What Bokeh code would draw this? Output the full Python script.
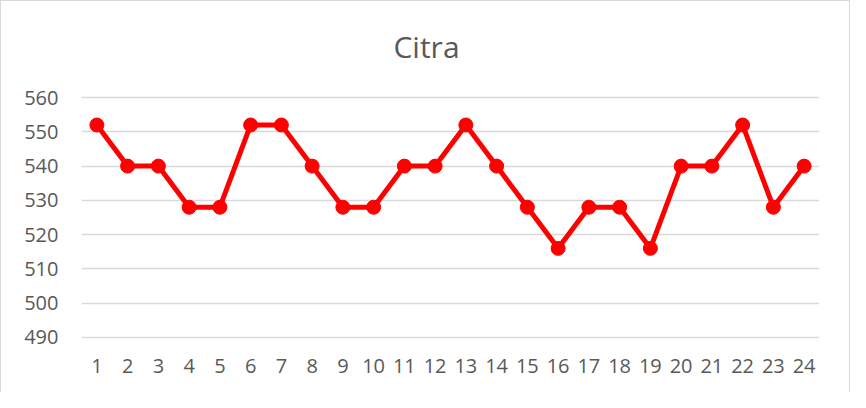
from bokeh.plotting import figure
from bokeh.models import FixedTicker, Label
from bokeh.embed import file_html
from bokeh.resources import INLINE

categories = [str(i) for i in range(1, 25)]
values = [552, 540, 540, 528, 528, 552, 552, 540, 528, 528, 540, 540,
          552, 540, 528, 516, 528, 528, 516, 540, 540, 552, 528, 540]
y_ticks = [490, 500, 510, 520, 530, 540, 550, 560]
title_text = "Citra"

# frame extended above 560 so the title can sit inside it (no gridlines there)
p = figure(width=850, height=392, x_range=categories, y_range=(489.7, 582.2),
           output_backend="svg", toolbar_location=None,
           min_border_left=80, min_border_right=32,
           min_border_top=20, min_border_bottom=55)

# title in screen units relative to the plot frame (bottom-left origin)
title = Label(x=345, y=292, x_units="screen", y_units="screen", text=title_text,
              text_align="center", text_baseline="middle",
              text_font="Open Sans", text_font_size="30px",
              text_color="#595959")
p.add_layout(title)

p.outline_line_color = None
p.background_fill_color = "white"
p.border_fill_color = "white"
p.styles = {"border-left": "1px solid #d9d9d9",
            "border-top": "1px solid #d9d9d9",
            "border-right": "1px solid #d9d9d9"}

p.xgrid.grid_line_color = None
p.ygrid.grid_line_color = "#d9d9d9"
p.ygrid.grid_line_width = 1.5

p.yaxis.ticker = FixedTicker(ticks=y_ticks)
for ax in (p.xaxis[0], p.yaxis[0]):
    ax.axis_line_color = None
    ax.major_tick_line_color = None
    ax.minor_tick_line_color = None
    ax.major_label_text_font = "Open Sans"
    ax.major_label_text_font_size = "20px"
    ax.major_label_text_color = "#595959"
p.yaxis.major_label_standoff = 17
p.xaxis.major_label_standoff = 14
p.x_range.range_padding = 0

p.line(categories, values, line_color="#ff0000", line_width=5)
p.scatter(categories, values, size=14, fill_color="#ff0000", line_color="#ff0000")

open("out.html", "w").write(file_html(p, INLINE))
